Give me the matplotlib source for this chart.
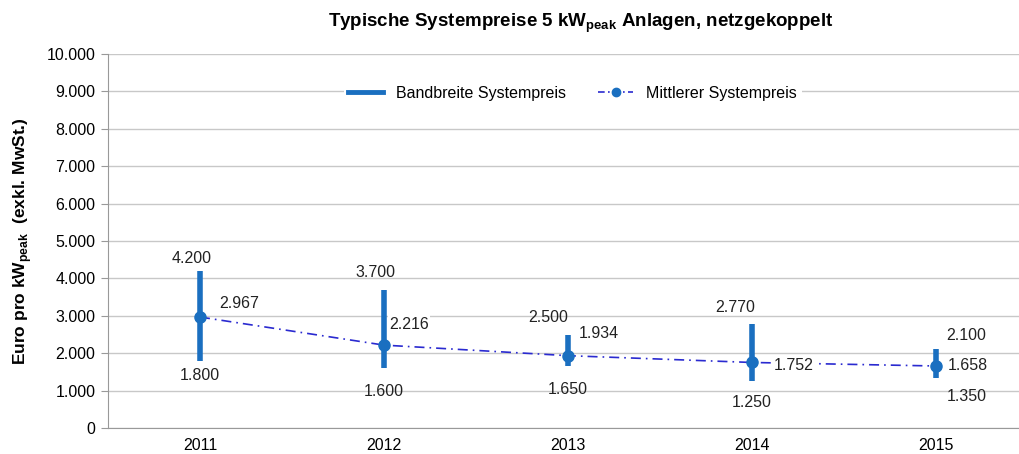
import matplotlib.pyplot as plt
from matplotlib.lines import Line2D

plt.rcParams['font.family'] = ['Liberation Sans', 'DejaVu Sans']

# Data
years = ['2011', '2012', '2013', '2014', '2015']
price_min = [1800, 1600, 1650, 1250, 1350]
price_max = [4200, 3700, 2500, 2770, 2100]
price_mean = [2967, 2216, 1934, 1752, 1658]

# label offsets (points) for max / mean / min
off_max = [(-6, 9), (-6, 12), (-14, 12), (-12, 12), (22, 10)]
off_mean = [(28, 10), (18, 15), (22, 16), (30, -2), (23, 0)]
off_min = [(0, -11), (0, -17), (0, -17), (0, -15), (22, -14)]

bar_color = '#1a6fc0'
mean_color = '#2a2ad0'

fig = plt.figure(figsize=(10.19, 4.54), dpi=100)
ax = fig.add_axes([108 / 1019, 26 / 454, 920 / 1019, 374 / 454])

x = list(range(len(years)))
ax.vlines(x, price_min, price_max, color=bar_color, lw=4, zorder=3)
ax.plot(x, price_mean, color=mean_color, lw=1.2, ls=(0, (6, 3, 1, 3)), zorder=4)
ax.plot(x, price_mean, 'o', color=bar_color, ms=8, zorder=5)

def fmt(v):
    return f'{v:,}'.replace(',', '.')

lbl = dict(ha='center', va='center', fontsize=11.5, color='#222222', textcoords='offset points')
for i in x:
    ax.annotate(fmt(price_max[i]), (i, price_max[i]), xytext=off_max[i], **lbl)
    ax.annotate(fmt(price_mean[i]), (i, price_mean[i]), xytext=off_mean[i], zorder=6,
                bbox=dict(fc='white', ec='none', pad=1), **lbl)
    ax.annotate(fmt(price_min[i]), (i, price_min[i]), xytext=off_min[i], **lbl)

ax.set_xlim(-0.5, 4.5)
ax.set_ylim(0, 10000)
ax.set_yticks(range(0, 10001, 1000))
ax.set_yticklabels([fmt(v) for v in range(0, 10001, 1000)], fontsize=11.5)
ax.set_xticks(x)
ax.set_xticklabels(years, fontsize=11.5)
ax.tick_params(axis='x', length=0, pad=7)
ax.tick_params(axis='y', length=5, color='#999999', pad=4)
ax.grid(axis='y', color='#c8c8c8', lw=1)
ax.set_axisbelow(True)
for s in ['top', 'right']:
    ax.spines[s].set_visible(False)
for s in ['left', 'bottom']:
    ax.spines[s].set_color('#999999')

ax.set_ylabel('Euro pro kW$_{\\mathregular{peak}}$  (exkl. MwSt.)', fontsize=12.5, fontweight='bold', labelpad=9)
fig.text(0.57, 0.948, 'Typische Systempreise 5 kW$_{\\mathregular{peak}}$ Anlagen, netzgekoppelt',
         ha='center', va='center', fontsize=13.5, fontweight='bold')

handles = [Line2D([], [], color=bar_color, lw=3.5),
           Line2D([], [], color=mean_color, lw=1.2, ls=(0, (4, 2, 1, 2)), marker='o',
                  mfc=bar_color, mec=bar_color, ms=6)]
leg = ax.legend(handles, ['Bandbreite Systempreis', 'Mittlerer Systempreis'], loc='center',
                bbox_to_anchor=(0.505, 0.895), ncol=2, frameon=True, fontsize=11.5,
                handlelength=2.2, columnspacing=2.0, borderpad=0.3)
leg.get_frame().set_edgecolor('none')
leg.get_frame().set_facecolor('white')
leg.get_frame().set_alpha(1)

fig.savefig('out.png', dpi=100)
